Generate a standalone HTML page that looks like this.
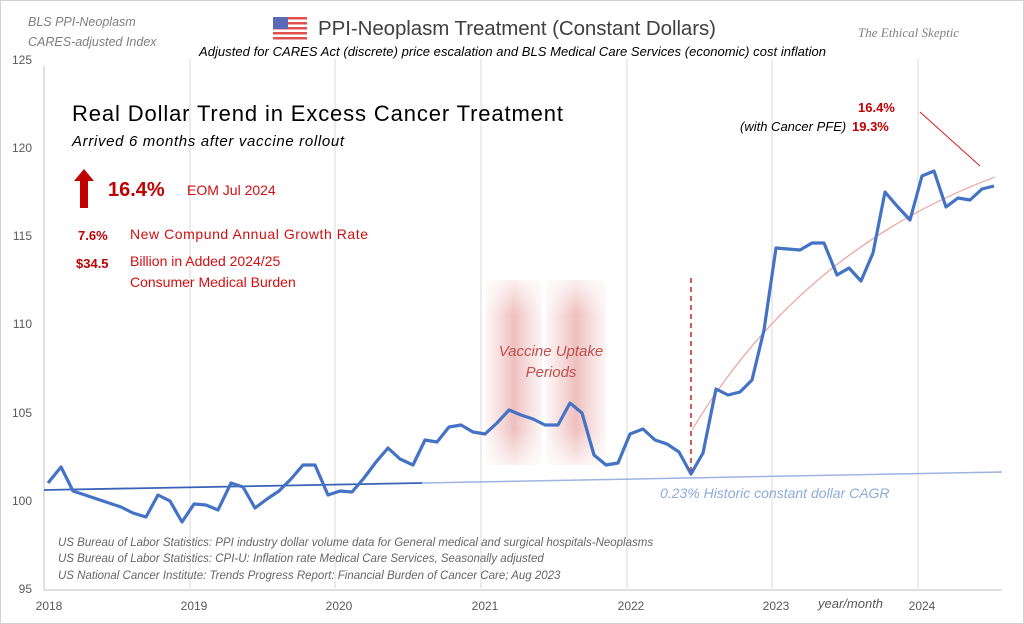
<!DOCTYPE html>
<html><head><meta charset="utf-8"><style>
body{margin:0;background:#fff;}
svg{display:block;font-family:"Liberation Sans",sans-serif;}
</style></head><body>
<svg width="1024" height="624" viewBox="0 0 1024 624" xmlns="http://www.w3.org/2000/svg">
<defs>
<linearGradient id="pk" x1="0" x2="1" y1="0" y2="0">
<stop offset="0" stop-color="#e7a0a0" stop-opacity="0.1"/>
<stop offset="0.5" stop-color="#e08a8a" stop-opacity="0.55"/>
<stop offset="1" stop-color="#e7a0a0" stop-opacity="0.1"/>
</linearGradient>
<linearGradient id="pkv" x1="0" x2="0" y1="0" y2="1">
<stop offset="0" stop-color="#fff" stop-opacity="0.8"/>
<stop offset="0.2" stop-color="#fff" stop-opacity="0"/>
<stop offset="0.8" stop-color="#fff" stop-opacity="0"/>
<stop offset="1" stop-color="#fff" stop-opacity="0.8"/>
</linearGradient>
</defs>
<rect x="0.5" y="0.5" width="1023" height="623" fill="#fff" stroke="#d0d0d0"/>
<g stroke="#d9d9d9" stroke-width="1">
<line x1="190" y1="59" x2="190" y2="588"/><line x1="335" y1="59" x2="335" y2="588"/>
<line x1="481" y1="59" x2="481" y2="588"/><line x1="627" y1="59" x2="627" y2="588"/>
<line x1="772" y1="59" x2="772" y2="588"/><line x1="918" y1="59" x2="918" y2="588"/>
</g>
<line x1="44" y1="66" x2="44" y2="590" stroke="#bfbfbf"/>
<line x1="44" y1="590" x2="1002" y2="590" stroke="#bfbfbf"/>
<g font-size="12" fill="#595959" text-anchor="end">
<text x="32" y="64">125</text><text x="32" y="152">120</text><text x="32" y="240">115</text>
<text x="32" y="328">110</text><text x="32" y="417">105</text><text x="32" y="505">100</text><text x="32" y="593">95</text>
</g>
<g font-size="12" fill="#595959" text-anchor="middle">
<text x="49" y="610">2018</text><text x="194" y="610">2019</text><text x="339" y="610">2020</text>
<text x="485" y="610">2021</text><text x="631" y="610">2022</text><text x="776" y="610">2023</text><text x="922" y="610">2024</text>
</g>
<text x="818" y="608" font-size="13" font-style="italic" fill="#595959">year/month</text>
<rect x="486" y="280" width="56" height="185" fill="url(#pk)"/>
<rect x="546" y="280" width="60" height="185" fill="url(#pk)"/>
<rect x="484" y="278" width="124" height="189" fill="url(#pkv)"/>
<text x="551" y="356" font-size="15" font-style="italic" fill="#c0504d" text-anchor="middle">Vaccine Uptake</text>
<text x="551" y="377" font-size="15" font-style="italic" fill="#c0504d" text-anchor="middle">Periods</text>
<line x1="422" y1="483" x2="1002" y2="472" stroke="#9db3e0" stroke-width="1.5"/>
<line x1="44" y1="490" x2="422" y2="483" stroke="#3a63b8" stroke-width="1.8"/>
<path d="M692 430 Q 800 250 995 177" fill="none" stroke="#f0a0a0" stroke-width="1.2"/>
<line x1="920" y1="112" x2="980" y2="166" stroke="#d02020" stroke-width="1"/>
<line x1="691" y1="278" x2="691" y2="474" stroke="#c00000" stroke-width="1.3" stroke-dasharray="5,4"/>
<polyline fill="none" stroke="#4472c4" stroke-width="3.2" stroke-linejoin="round" points="48,483 61,467 73,491 85,495 97,499 109,503 121,507 133,513 146,517 158,495 170,501 182,522 194,504 206,505 218,510 231,483 243,487 255,508 267,499 279,491 291,479 303,465 315,465 328,495 340,491 352,492 364,478 376,462 388,448 400,459 413,465 425,440 437,442 449,427 461,425 473,432 485,434 497,423 509,410 521,415 533,419 545,425 558,425 570,403 582,413 594,455 606,465 618,463 630,434 643,429 655,440 667,444 679,452 691,474 703,453 716,389 728,395 740,392 752,380 764,330 776,248 788,249 800,250 812,243 824,243 837,275 849,268 861,281 873,253 885,192 897,206 910,220 922,176 934,171 946,207 958,198 970,200 982,189 994,186"/>
<text x="660" y="498" font-size="14" font-style="italic" fill="#8eaadb">0.23%  Historic constant dollar CAGR</text>
<text x="28" y="26" font-size="12.5" font-style="italic" fill="#7f7f7f">BLS PPI-Neoplasm</text>
<text x="28" y="46" font-size="12.5" font-style="italic" fill="#7f7f7f">CARES-adjusted Index</text>
<g>
<rect x="273" y="17" width="34" height="24" fill="#fff"/>
<g fill="#e05050"><rect x="273" y="17" width="34" height="2.5"/><rect x="273" y="22" width="34" height="2.5"/><rect x="273" y="27" width="34" height="2.5"/><rect x="273" y="32" width="34" height="2.5"/><rect x="273" y="37" width="34" height="2.5"/></g>
<rect x="273" y="17" width="15" height="12" fill="#5a6ab8"/>
</g>
<text x="318" y="35" font-size="20.5" fill="#404040" textLength="398">PPI-Neoplasm  Treatment  (Constant Dollars)</text>
<text x="199" y="56" font-size="13" font-style="italic" fill="#000" textLength="627">Adjusted for CARES Act (discrete)  price escalation and BLS Medical Care Services (economic) cost inflation</text>
<text x="858" y="37" font-size="13" font-style="italic" fill="#7f7f7f" font-family="Liberation Serif,serif">The Ethical Skeptic</text>
<text x="72" y="121" font-size="22" fill="#000" textLength="491">Real Dollar Trend in Excess Cancer Treatment</text>
<text x="72" y="146" font-size="15" font-style="italic" fill="#000" textLength="272">Arrived 6 months after vaccine rollout</text>
<path d="M84 169 L94 181 L88 181 L88 208 L80 208 L80 181 L74 181 Z" fill="#c00000"/>
<text x="108" y="196" font-size="20" font-weight="bold" fill="#c00000">16.4%</text>
<text x="187" y="195" font-size="14" fill="#d01010">EOM Jul 2024</text>
<text x="78" y="240" font-size="13" font-weight="bold" fill="#c00000">7.6%</text>
<text x="130" y="239" font-size="14" fill="#d01010" textLength="238">New Compund Annual Growth Rate</text>
<text x="76" y="268" font-size="13" font-weight="bold" fill="#c00000">$34.5</text>
<text x="130" y="266" font-size="14" fill="#d01010">Billion in Added 2024/25</text>
<text x="130" y="287" font-size="14" fill="#d01010">Consumer Medical Burden</text>
<text x="858" y="112" font-size="13" font-weight="bold" fill="#c00000">16.4%</text>
<text x="740" y="131" font-size="13" font-style="italic" fill="#000">(with Cancer PFE)</text>
<text x="852" y="131" font-size="13" font-weight="bold" fill="#c00000">19.3%</text>
<g font-size="11.5" font-style="italic" fill="#666">
<text x="58" y="546">US Bureau of Labor Statistics: PPI industry dollar volume data for General medical and surgical hospitals-Neoplasms</text>
<text x="58" y="562">US Bureau of Labor Statistics: CPI-U: Inflation rate Medical Care Services, Seasonally adjusted</text>
<text x="58" y="579">US National Cancer Institute: Trends Progress Report: Financial Burden of Cancer Care; Aug 2023</text>
</g>
</svg>
</body></html>
